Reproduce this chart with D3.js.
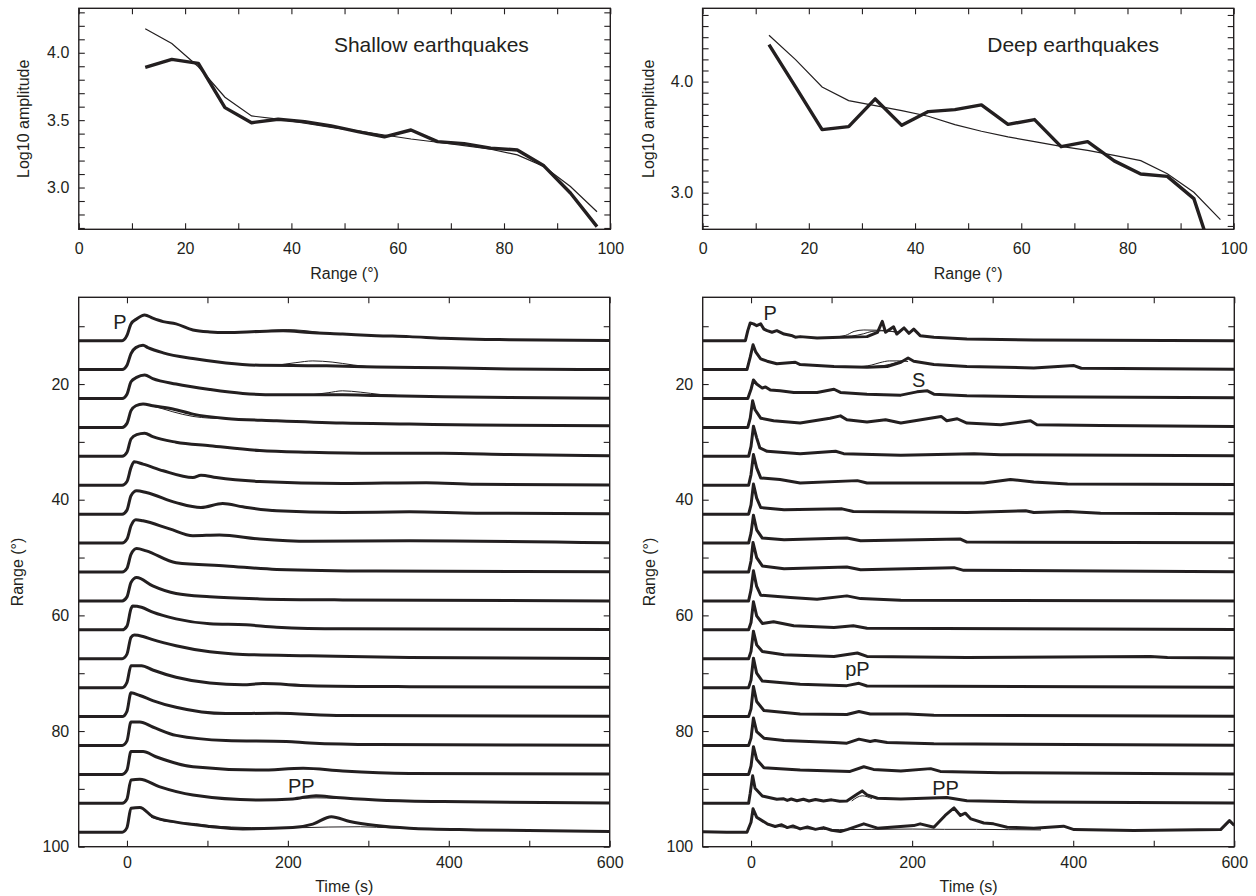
<!DOCTYPE html>
<html>
<head>
<meta charset="utf-8">
<script src="https://cdn.jsdelivr.net/npm/d3@7/dist/d3.min.js"></script>
<style>
body { margin: 0; background: #fff; }
svg text { font-family: "Liberation Sans", Arial, Helvetica, sans-serif; fill: #231f20; }
</style>
</head>
<body>
<svg id="chart" width="1256" height="896"></svg>
<script>
/* ---------- top panels: log10 amplitude against range ---------- */
var binRange = [12.5, 17.5, 22.5, 27.5, 32.5, 37.5, 42.5, 47.5, 52.5, 57.5, 62.5, 67.5, 72.5, 77.5, 82.5, 87.5, 92.5, 97.5];

// thick = observed, thin = model
var shallowObsAmp   = [3.892, 3.951, 3.921, 3.593, 3.481, 3.507, 3.489, 3.457, 3.415, 3.376, 3.427, 3.341, 3.326, 3.292, 3.279, 3.161, 2.959, 2.71];
var shallowModelAmp = [4.178, 4.069, 3.896, 3.670, 3.531, 3.507, 3.477, 3.447, 3.420, 3.390, 3.360, 3.336, 3.311, 3.284, 3.242, 3.156, 3.008, 2.82];
var deepObsAmp      = [4.333, 3.952, 3.568, 3.595, 3.844, 3.606, 3.730, 3.748, 3.790, 3.615, 3.658, 3.414, 3.459, 3.286, 3.168, 3.147, 2.946, 2.22];
var deepModelAmp    = [4.417, 4.198, 3.952, 3.829, 3.784, 3.739, 3.688, 3.613, 3.553, 3.502, 3.459, 3.417, 3.381, 3.336, 3.288, 3.171, 3.003, 2.757];

var rangeTicks   = [0, 10, 20, 30, 40, 50, 60, 70, 80, 90, 100];
var rangeLabels  = [0, 20, 40, 60, 80, 100];
var shallowYTicks  = [2.7, 2.8, 2.9, 3.0, 3.1, 3.2, 3.3, 3.4, 3.5, 3.6, 3.7, 3.8, 3.9, 4.0, 4.1, 4.2, 4.3];
var shallowYLabels = [3.0, 3.5, 4.0];
var deepYTicks  = [2.7, 2.8, 2.9, 3.0, 3.1, 3.2, 3.3, 3.4, 3.5, 3.6, 3.7, 3.8, 3.9, 4.0, 4.1, 4.2, 4.3, 4.4, 4.5, 4.6];
var deepYLabels = [3.0, 4.0];

/* ---------- bottom panels: stacked envelopes, [time s, amplitude in degrees of range] ---------- */
var timeTicks  = [0, 100, 200, 300, 400, 500, 600];
var timeLabels = [0, 200, 400, 600];
var traceYTicks  = [10, 20, 30, 40, 50, 60, 70, 80, 90, 100];
var traceYLabels = [20, 40, 60, 80, 100];

var shallowTraces = [
  [[-60,0],[-6,0],[0,0.9],[5,2.9],[12,3.75],[22,4.45],[32,3.9],[45,3.3],[61,2.9],[82,1.85],[103,1.5],[123,1.4],[165,1.6],[194,1.7],[227,1.4],[268,1.15],[310,0.87],[351,0.7],[393,0.4],[434,0.23],[475,0.17],[600,0.05]],
  [[-60,0],[-6,0],[0,0.75],[5,2.77],[11,3.8],[20,4.2],[26,3.8],[45,2.9],[82,1.9],[123,1.15],[165,0.75],[206,0.7],[248,0.65],[310,0.45],[393,0.3],[475,0.12],[600,0]],
  [[-60,0],[-6,0],[0,0.75],[5,2.9],[12,3.65],[22,4.05],[32,3.45],[61,2.5],[103,1.55],[144,0.87],[186,0.65],[227,0.65],[268,0.65],[310,0.52],[393,0.3],[475,0.17],[600,0.06]],
  [[-60,0],[-6,0],[0,0.7],[5,2.9],[11,3.75],[20,4.05],[32,3.75],[57,3.2],[82,2.3],[123,1.55],[186,1.15],[268,0.75],[351,0.58],[434,0.4],[600,0.29]],
  [[-60,0],[-6,0],[0,0.7],[5,3.0],[12,3.75],[22,4.0],[32,3.4],[61,2.45],[103,1.85],[165,1.0],[227,0.7],[310,0.52],[393,0.52],[475,0.3],[600,0.12]],
  [[-60,0],[-6,0],[0,0.65],[5,3.05],[9,4.05],[20,3.65],[45,2.5],[82,1.33],[92,1.75],[111,1.33],[165,0.65],[268,0.3],[372,0.45],[434,0.17],[600,0.06]],
  [[-60,0],[-6,0],[0,0.7],[5,3.2],[12,4.05],[24,3.75],[61,2.0],[92,1.15],[119,1.85],[144,1.27],[186,0.58],[268,0.3],[351,0.4],[434,0.17],[600,0.06]],
  [[-60,0],[-6,0],[0,0.7],[5,3.0],[11,4.05],[20,3.85],[53,2.45],[82,1.27],[115,1.4],[165,0.7],[227,0.3],[351,0.4],[600,0.06]],
  [[-60,0],[-6,0],[0,0.65],[5,3.05],[12,4.05],[24,3.65],[61,1.6],[123,1.05],[186,0.45],[310,0.17],[600,0.06]],
  [[-60,0],[-6,0],[0,0.7],[5,3.2],[12,4.05],[32,2.6],[61,1.27],[103,0.7],[165,0.35],[268,0.17],[600,0]],
  [[-60,0],[-6,0],[0,0.65],[5,3.65],[7,4.1],[18,3.9],[32,3.05],[61,1.9],[103,1.05],[148,0.87],[186,0.45],[268,0.17],[600,0.06]],
  [[-60,0],[-6,0],[0,0.8],[5,3.7],[9,4.1],[20,3.85],[32,3.3],[61,2.25],[103,1.2],[144,0.75],[227,0.52],[351,0.23],[600,0.06]],
  [[-60,0],[-6,0],[0,0.92],[5,3.8],[18,3.8],[32,3.05],[61,1.8],[103,0.8],[144,0.52],[169,0.7],[227,0.35],[351,0.17],[600,0.06]],
  [[-60,0],[-6,0],[0,0.92],[5,4.1],[16,3.65],[32,2.77],[61,1.6],[123,0.52],[186,0.58],[268,0.17],[600,0.06]],
  [[-60,0],[-6,0],[0,0.8],[5,4.05],[16,4.05],[32,3.2],[61,1.75],[123,0.87],[198,0.7],[227,0.45],[310,0.17],[600,0.06]],
  [[-60,0],[-6,0],[0,0.75],[5,3.95],[20,3.95],[36,3.05],[82,1.33],[165,0.75],[219,1.05],[268,0.58],[351,0.17],[600,0.06]],
  [[-60,0],[-6,0],[0,0.75],[5,4.05],[16,4.15],[40,2.9],[82,1.45],[165,0.58],[206,0.75],[235,1.33],[260,1.0],[310,0.58],[393,0.3],[600,0.06]],
  [[-60,0],[-6,0],[0,0.8],[5,4.15],[16,4.3],[32,2.7],[61,1.75],[103,1.0],[144,0.58],[206,0.8],[231,1.4],[254,2.7],[277,1.85],[310,1.15],[351,0.7],[434,0.4],[600,0.12]]
];

// model traces only where they part from the observed ones
var shallowModelSegs = [
  {range: 12.5, pts: [[160,1.6],[180,1.8],[200,1.9],[220,1.75],[240,1.4]]},
  {range: 17.5, pts: [[185,0.72],[210,1.2],[231,1.5],[255,1.3],[281,0.8],[300,0.5]]},
  {range: 22.5, pts: [[230,0.65],[250,1.0],[268,1.33],[290,1.1],[315,0.7],[335,0.55]]},
  {range: 27.5, pts: [[25,3.9],[40,3.4],[57,2.7],[82,1.9],[103,1.6],[123,1.5]]},
  {range: 92.5, pts: [[205,0.75],[235,0.95],[262,0.85]]},
  {range: 97.5, pts: [[30,2.6],[45,2.0],[60,1.7],[75,1.6],[85,1.5],[100,1.2],[130,0.9],[180,0.75],[220,0.8],[250,0.9],[290,0.95],[330,0.75],[360,0.7]]}
];

var deepTraces = [
  [[-60,0],[-7,0],[-4,1.73],[-1,3.06],[3,2.9],[7,2.6],[12,2.9],[16,2.0],[20,1.73],[26,1.45],[32,1.73],[41,1.15],[50,0.9],[55,0.6],[61,0.7],[82,0.46],[111,0.58],[144,0.7],[157,1.45],[163,3.35],[167,1.45],[177,2.4],[181,1.15],[190,2.2],[196,1.27],[202,2.0],[210,0.87],[227,0.58],[268,0.29],[351,0.12],[600,0]],
  [[-60,0],[-5,0],[-1,2.15],[2.5,4.3],[6,3.0],[12,1.85],[20,1.45],[32,1.0],[55,1.27],[61,0.87],[103,0.52],[144,0.4],[169,0.52],[186,1.27],[195,2.0],[202,1.45],[227,0.87],[268,0.52],[351,0.29],[401,0.7],[410,0.23],[600,0.06]],
  [[-60,0],[-4,0],[0,1.6],[3,3.2],[7,2.5],[14,1.8],[18,2.0],[24,1.45],[36,1.33],[53,1.05],[82,1.05],[103,1.6],[111,1.05],[144,0.75],[186,0.58],[206,1.15],[219,1.33],[227,0.75],[268,0.46],[351,0.29],[600,0.12]],
  [[-60,0],[-4,0],[-1,1.6],[2,4.6],[5,3.05],[12,1.6],[28,1.15],[61,0.75],[98,1.6],[111,2.0],[119,1.33],[144,0.92],[167,1.33],[186,0.75],[236,1.9],[243,1.15],[256,1.5],[268,0.75],[310,0.46],[347,1.15],[355,0.46],[434,0.35],[600,0.17]],
  [[-60,0],[-3,0],[0,1.73],[3,5.2],[7,3.2],[11,1.45],[20,0.87],[61,0.46],[105,0.87],[115,0.46],[186,0.17],[277,0.46],[310,0.29],[600,0.12]],
  [[-60,0],[-3,0],[0,1.85],[3,5.3],[7,3.0],[12,1.27],[36,1.0],[61,0.4],[132,0.8],[144,0.4],[289,0.4],[322,1.0],[351,0.58],[393,0.23],[600,0.12]],
  [[-60,0],[-3,0],[0,1.6],[3,5.2],[7,2.77],[12,1.15],[41,0.75],[113,0.92],[127,0.46],[268,0.29],[341,0.58],[351,0.29],[393,0.46],[434,0.17],[600,0.06]],
  [[-60,0],[-3,0],[0,1.73],[3,4.8],[7,2.3],[14,0.87],[41,0.58],[119,0.87],[136,0.4],[260,0.7],[268,0.17],[600,0.06]],
  [[-60,0],[-3,0],[0,1.9],[2.5,5.1],[7,2.5],[14,1.05],[41,0.58],[119,0.87],[136,0.4],[252,0.75],[264,0.29],[600,0.06]],
  [[-60,0],[-3,0],[0,1.9],[3,5.2],[7,2.5],[12,1.0],[49,0.58],[82,0.29],[119,0.87],[136,0.4],[186,0.12],[600,0]],
  [[-60,0],[-3,0],[0,1.27],[3,4.85],[7,2.4],[14,1.1],[28,1.4],[53,0.7],[103,0.4],[127,0.7],[144,0.29],[600,0.06]],
  [[-60,0],[-3,0],[0,1.27],[3,4.75],[7,2.4],[14,1.27],[41,0.7],[103,0.4],[132,1.0],[144,0.4],[268,0.23],[496,0.4],[517,0.23],[600,0.12]],
  [[-60,0],[-3,0],[0,1.33],[3,5.1],[7,2.5],[14,1.15],[61,0.58],[119,0.35],[134,0.75],[144,0.29],[600,0.06]],
  [[-60,0],[-3,0],[0,1.33],[3,5.2],[7,2.6],[16,1.05],[61,0.46],[119,0.35],[134,0.87],[148,0.46],[194,0.46],[227,0.23],[600,0.06]],
  [[-60,0],[-3,0],[0,1.27],[3,4.75],[7,2.4],[16,1.27],[41,0.87],[103,0.52],[119,0.4],[134,1.1],[148,0.7],[154,0.87],[169,0.52],[227,0.29],[600,0.06]],
  [[-60,0],[-3,0],[0,1.45],[3,4.8],[7,2.6],[16,1.15],[61,0.75],[123,0.52],[140,1.33],[152,0.87],[186,0.58],[223,1.0],[235,0.52],[310,0.29],[600,0.06]],
  [[-60,0],[-3,0],[-1,1.73],[2,4.75],[5,2.6],[14,1.27],[32,0.7],[40,0.8],[45,0.5],[50,0.75],[57,0.45],[65,0.7],[72,0.4],[80,0.65],[90,0.4],[100,0.6],[110,0.35],[119,0.4],[132,1.6],[138,2.15],[144,1.45],[157,0.87],[186,0.75],[243,1.0],[268,0.46],[351,0.23],[600,0.06]],
  [[-60,0.1],[-30,0],[-5,0],[0,1.73],[2.5,4.05],[7,2.6],[20,1.45],[30,1.0],[38,1.3],[45,0.8],[52,1.1],[61,0.58],[70,0.9],[80,0.5],[90,0.8],[100,0.35],[111,0.12],[120,0.5],[140,1.45],[157,0.7],[202,1.15],[210,1.45],[227,0.87],[241,2.9],[252,4.2],[260,2.9],[266,3.3],[273,2.3],[289,1.6],[301,1.45],[318,0.87],[351,0.7],[388,1.05],[401,0.46],[475,0.29],[583,0.46],[594,2.0],[600,1.2]]
];

var deepModelSegs = [
  {range: 12.5, pts: [[100,0.6],[117,0.9],[128,1.6],[140,1.85],[160,1.8],[185,1.4]]},
  {range: 12.5, pts: [[100,0.6],[125,0.8],[140,1.2],[150,1.6],[162,1.7],[185,1.4]]},
  {range: 17.5, pts: [[130,0.45],[150,0.8],[160,1.2],[172,1.5],[185,1.5],[195,1.4]]},
  {range: 17.5, pts: [[140,0.45],[165,0.7],[180,1.2],[190,1.6]]},
  {range: 92.5, pts: [[125,0.4],[138,1.3],[150,0.8]]},
  {range: 97.5, pts: [[20,1.3],[40,0.9],[70,0.6],[110,0.45],[150,0.5],[200,0.55],[240,0.5],[280,0.5],[320,0.45],[360,0.4]]}
];

// phase labels: [text, time, range at baseline]
var shallowPhases = [["P", -17, 10.54], ["PP", 200, 90.76]];
var deepPhases    = [["P", 15.5, 8.93], ["S", 200, 20.47], ["pP", 117, 70.47], ["PP", 225, 90.99]];

/* ---------- drawing ---------- */
var ink = "#231f20";
var svg = d3.select("#chart");

// format helper: only labelled ticks get text
function labelFormat(labels, fmt) {
    return function(d) {
        return labels.indexOf(d) >= 0 ? fmt(d) : "";
    };
}

function styleAxis(g) {
    g.select(".domain").remove();
    g.selectAll(".tick line").attr("stroke", ink).attr("stroke-width", 1.1);
    g.selectAll(".tick text").attr("font-size", 16).attr("fill", ink);
}

// frame with inward ticks on all four sides
function drawFrame(g, box, x, y, xTicks, xLabels, xFmt, xPad, yTicks, yLabels, yFmt) {
    g.append("g")
        .attr("transform", "translate(0," + box.y1 + ")")
        .call(d3.axisBottom(x).tickValues(xTicks).tickSizeInner(-6).tickSizeOuter(0)
            .tickPadding(xPad).tickFormat(labelFormat(xLabels, xFmt)))
        .call(styleAxis);
    g.append("g")
        .attr("transform", "translate(0," + box.y0 + ")")
        .call(d3.axisTop(x).tickValues(xTicks).tickSizeInner(-6).tickSizeOuter(0).tickFormat(""))
        .call(styleAxis);
    g.append("g")
        .attr("transform", "translate(" + box.x0 + ",0)")
        .call(d3.axisLeft(y).tickValues(yTicks).tickSizeInner(-6).tickSizeOuter(0)
            .tickPadding(9.5).tickFormat(labelFormat(yLabels, yFmt)))
        .call(styleAxis);
    g.append("g")
        .attr("transform", "translate(" + box.x1 + ",0)")
        .call(d3.axisRight(y).tickValues(yTicks).tickSizeInner(-6).tickSizeOuter(0).tickFormat(""))
        .call(styleAxis);

    g.append("rect")
        .attr("x", box.x0).attr("y", box.y0)
        .attr("width", box.x1 - box.x0).attr("height", box.y1 - box.y0)
        .attr("fill", "none").attr("stroke", ink).attr("stroke-width", 1.4);
}

function addClip(id, box) {
    svg.append("clipPath").attr("id", id)
        .append("rect")
        .attr("x", box.x0).attr("y", box.y0)
        .attr("width", box.x1 - box.x0).attr("height", box.y1 - box.y0);
}

/* top panel */
function drawAmpPanel(id, box, obs, model, yDomain, yTicks, yLabels, title, titleAt, yTitleX) {
    var g = svg.append("g").attr("id", id);
    var x = d3.scaleLinear().domain([0, 100]).range([box.x0, box.x1]);
    var y = d3.scaleLinear().domain(yDomain).range([box.y1, box.y0]);
    addClip(id + "-clip", box);

    var line = d3.line()
        .x(function(d) { return x(d[0]); })
        .y(function(d) { return y(d[1]); });

    var lines = g.append("g").attr("clip-path", "url(#" + id + "-clip)");
    lines.append("path")
        .datum(binRange.map(function(r, i) { return [r, model[i]]; }))
        .attr("d", line)
        .attr("fill", "none").attr("stroke", ink).attr("stroke-width", 1.2);
    lines.append("path")
        .datum(binRange.map(function(r, i) { return [r, obs[i]]; }))
        .attr("d", line)
        .attr("fill", "none").attr("stroke", ink).attr("stroke-width", 3.4)
        .attr("stroke-linejoin", "round");

    drawFrame(g, box, x, y, rangeTicks, rangeLabels, d3.format("d"), 13,
              yTicks, yLabels, d3.format(".1f"));

    g.append("text")
        .attr("x", x(titleAt))
        .attr("y", box.y0 + 44)
        .attr("font-size", 21)
        .text(title);

    g.append("text")
        .attr("x", (box.x0 + box.x1) / 2)
        .attr("y", 279)
        .attr("text-anchor", "middle")
        .attr("font-size", 16)
        .text("Range (°)");

    g.append("text")
        .attr("transform", "translate(" + yTitleX + "," + ((box.y0 + box.y1) / 2) + ") rotate(-90)")
        .attr("text-anchor", "middle")
        .attr("font-size", 16)
        .text("Log10 amplitude");
}

/* bottom panel */
function drawTracePanel(id, box, traces, modelSegs, phases, curve, yTitleX) {
    var g = svg.append("g").attr("id", id);
    var x = d3.scaleLinear().domain([-60, 600]).range([box.x0, box.x1]);
    var y = d3.scaleLinear().domain([5, 100]).range([box.y0, box.y1]);
    addClip(id + "-clip", box);

    var lines = g.append("g").attr("clip-path", "url(#" + id + "-clip)");

    traces.forEach(function(pts, i) {
        var base = binRange[i];
        var line = d3.line()
            .curve(curve)
            .x(function(d) { return x(d[0]); })
            .y(function(d) { return y(base - d[1]); });
        lines.append("path")
            .datum(pts)
            .attr("d", line)
            .attr("fill", "none").attr("stroke", ink).attr("stroke-width", 3)
            .attr("stroke-linejoin", "round");
    });

    modelSegs.forEach(function(seg) {
        var line = d3.line()
            .curve(d3.curveMonotoneX)
            .x(function(d) { return x(d[0]); })
            .y(function(d) { return y(seg.range - d[1]); });
        lines.append("path")
            .datum(seg.pts)
            .attr("d", line)
            .attr("fill", "none").attr("stroke", ink).attr("stroke-width", 1);
    });

    drawFrame(g, box, x, y, timeTicks, timeLabels, d3.format("d"), 10,
              traceYTicks, traceYLabels, d3.format("d"));

    g.selectAll("text.phase")
        .data(phases)
        .enter()
        .append("text")
        .attr("class", "phase")
        .attr("x", function(d) { return x(d[1]); })
        .attr("y", function(d) { return y(d[2]); })
        .attr("font-size", 20)
        .text(function(d) { return d[0]; });

    g.append("text")
        .attr("x", (box.x0 + box.x1) / 2)
        .attr("y", 892)
        .attr("text-anchor", "middle")
        .attr("font-size", 16)
        .text("Time (s)");

    g.append("text")
        .attr("transform", "translate(" + yTitleX + "," + ((box.y0 + box.y1) / 2) + ") rotate(-90)")
        .attr("text-anchor", "middle")
        .attr("font-size", 16)
        .text("Range (°)");
}

drawAmpPanel("shallow-amp", {x0: 78.8, x1: 610.3, y0: 8.3, y1: 229.3},
             shallowObsAmp, shallowModelAmp, [2.69, 4.33], shallowYTicks, shallowYLabels,
             "Shallow earthquakes", 48, 29);
drawAmpPanel("deep-amp", {x0: 702.6, x1: 1233.7, y0: 8.3, y1: 229.3},
             deepObsAmp, deepModelAmp, [2.67, 4.66], deepYTicks, deepYLabels,
             "Deep earthquakes", 53.6, 654);

drawTracePanel("shallow-traces", {x0: 78.7, x1: 609.7, y0: 297.3, y1: 846.7},
               shallowTraces, shallowModelSegs, shallowPhases, d3.curveMonotoneX, 23);
drawTracePanel("deep-traces", {x0: 702.7, x1: 1234.3, y0: 297.3, y1: 846.7},
               deepTraces, deepModelSegs, deepPhases, d3.curveLinear, 655);
</script>
</body>
</html>
